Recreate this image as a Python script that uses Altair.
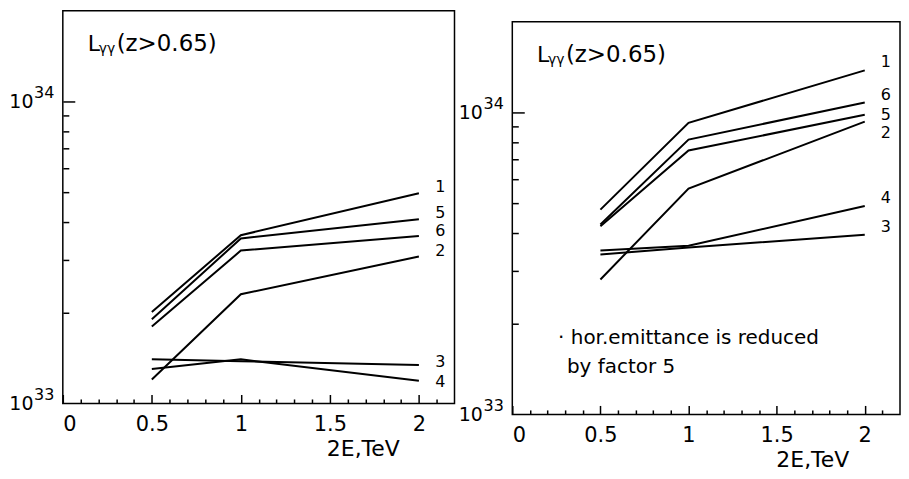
import altair as alt
import pandas as pd

# ---- data ----
energy = [0.5, 1.0, 2.0]  # 2E, TeV

# left panel: L_gg(z>0.65), cm^-2 s^-1
left_s1 = [2.01e33, 3.61e33, 4.97e33]
left_s2 = [1.20e33, 2.30e33, 3.07e33]
left_s3 = [1.40e33, 1.38e33, 1.34e33]
left_s4 = [1.30e33, 1.40e33, 1.19e33]
left_s5 = [1.90e33, 3.52e33, 4.08e33]
left_s6 = [1.80e33, 3.21e33, 3.59e33]

# right panel: horizontal emittance reduced by factor 5
right_s1 = [4.77e33, 9.25e33, 1.38e34]
right_s2 = [2.80e33, 5.60e33, 9.33e33]
right_s3 = [3.39e33, 3.57e33, 3.94e33]
right_s4 = [3.49e33, 3.62e33, 4.90e33]
right_s5 = [4.20e33, 7.49e33, 9.83e33]
right_s6 = [4.26e33, 8.14e33, 1.08e34]

series_names = ["1", "2", "3", "4", "5", "6"]

# curve number labels at the right end
label_x = 2.12
left_label_names = ["1", "5", "6", "2", "3", "4"]
left_label_y = [5.20e33, 4.28e33, 3.74e33, 3.21e33, 1.37e33, 1.18e33]
right_label_names = ["1", "6", "5", "2", "4", "3"]
right_label_y = [1.47e34, 1.14e34, 9.85e33, 8.55e33, 5.20e33, 4.17e33]

# axis ticks
x_major = [0, 0.5, 1, 1.5, 2]
x_minor = [0.1, 0.2, 0.3, 0.4, 0.6, 0.7, 0.8, 0.9, 1.1, 1.2, 1.3, 1.4,
           1.6, 1.7, 1.8, 1.9, 2.1]
y_labels = [1e33, 1e34]
y_minor = [2e33, 3e33, 4e33, 5e33, 6e33, 7e33, 8e33, 9e33]

# annotations
title_x = 0.14
title_y = 1.47e34
note_x = [0.26, 0.31]
note_y = [1.71e33, 1.37e33]
note_text = ["\u00b7 hor.emittance is reduced", "by factor 5"]

FONT = "DejaVu Sans"
H = 394
XDOM = [0, 2.2]
YDOM = [1e33, 2e34]


def panel(curves, lab_names, lab_y, W, notes=False):
    rows = []
    for name, vals in zip(series_names, curves):
        for e, v in zip(energy, vals):
            rows.append({"series": name, "E": e, "L": v})
    df = pd.DataFrame(rows)
    xs = alt.Scale(domain=XDOM, nice=False, zero=False)
    ys = alt.Scale(type="log", domain=YDOM, nice=False)
    base = alt.Chart(df)

    lines = base.mark_line(color="black", strokeWidth=2).encode(
        x=alt.X("E:Q", scale=xs, axis=alt.Axis(
            orient="bottom", values=x_major, format="~g", ticks=False,
            domain=False, grid=False, labelFont=FONT, labelFontSize=21,
            labelColor="black", labelPadding=10,
            title="2E,TeV", titleFont=FONT, titleFontSize=22,
            titleFontWeight="normal", titleColor="black", titleX=301,
            titleY=52, titleAlign="center", titleBaseline="alphabetic")),
        y=alt.Y("L:Q", scale=ys, axis=alt.Axis(
            orient="left", values=y_labels, labelExpr="'10'", ticks=False,
            domain=False, grid=False, labelFont=FONT, labelFontSize=19,
            labelColor="black", labelPadding=30, labelBaseline="middle",
            title=None)),
        detail="series:N",
    )
    sup = base.mark_line(opacity=0).encode(
        x=alt.X("E:Q", scale=xs, axis=None),
        y=alt.Y("L:Q", scale=ys, axis=alt.Axis(
            orient="left", values=y_labels,
            labelExpr="datum.value > 5e33 ? '34' : '33'", ticks=False,
            domain=False, grid=False, labelFont=FONT, labelFontSize=16,
            labelColor="black", labelPadding=9, labelBaseline="middle",
            labelOffset=-9, title=None)),
        detail="series:N",
    )

    def ticks(xv, xsize, yv, ysize):
        return base.mark_line(opacity=0).encode(
            x=alt.X("E:Q", scale=xs, axis=alt.Axis(
                orient="top", offset=-H, values=xv, tickSize=xsize,
                tickColor="black", tickWidth=1.5, labels=False, domain=False,
                grid=False, title=None)),
            y=alt.Y("L:Q", scale=ys, axis=alt.Axis(
                orient="right", offset=-W, values=yv, tickSize=ysize,
                tickColor="black", tickWidth=1.5, labels=False, domain=False,
                grid=False, title=None)),
            detail="series:N",
        )

    major = ticks(x_major, 9, [1e34], 12)
    minor = ticks(x_minor, 4.5, y_minor, 6)

    lab_df = pd.DataFrame({"E": [label_x] * len(lab_names), "L": lab_y,
                           "t": lab_names})
    labels = alt.Chart(lab_df).mark_text(
        font=FONT, fontSize=16, color="black", align="center",
        baseline="middle").encode(
        x=alt.X("E:Q", scale=xs, axis=None),
        y=alt.Y("L:Q", scale=ys, axis=None), text="t:N")

    tdf = pd.DataFrame({"E": [title_x], "L": [title_y]})
    tbase = alt.Chart(tdf)
    enc = dict(x=alt.X("E:Q", scale=xs, axis=None),
               y=alt.Y("L:Q", scale=ys, axis=None))
    t1 = tbase.mark_text(text="L", font=FONT, fontSize=22, color="black",
                         align="left", baseline="alphabetic").encode(**enc)
    t2 = tbase.mark_text(text="\u03b3\u03b3", font=FONT, fontSize=14,
                         color="black", align="left", baseline="alphabetic",
                         dx=11, dy=2).encode(**enc)
    t3 = tbase.mark_text(text="(z>0.65)", font=FONT, fontSize=23,
                         color="black", align="left",
                         baseline="alphabetic", dx=29).encode(**enc)

    layers = [lines, sup, major, minor, labels, t1, t2, t3]
    if notes:
        ndf = pd.DataFrame({"E": note_x, "L": note_y, "t": note_text})
        layers.append(alt.Chart(ndf).mark_text(
            font=FONT, fontSize=20, color="black", align="left",
            baseline="alphabetic").encode(
            x=alt.X("E:Q", scale=xs, axis=None),
            y=alt.Y("L:Q", scale=ys, axis=None), text="t:N"))
    return alt.layer(*layers).resolve_axis(
        x="independent", y="independent").properties(width=W, height=H)


left = panel([left_s1, left_s2, left_s3, left_s4, left_s5, left_s6],
             left_label_names, left_label_y, 393)
right_panel = panel([right_s1, right_s2, right_s3, right_s4, right_s5,
                     right_s6], right_label_names, right_label_y, 389,
                    notes=True)

spacer = alt.Chart(pd.DataFrame({"a": [0]})).mark_point(
    opacity=0, size=0).encode(x=alt.value(0), y=alt.value(0)).properties(
    width=1, height=9, view=alt.ViewBackground(stroke="transparent"))

right = alt.vconcat(spacer, right_panel, spacing=0)

chart = alt.hconcat(left, right, spacing=2).properties(
    padding={"left": 0, "top": 1, "right": 0, "bottom": 0},
    background="white",
).configure_view(stroke="black", strokeWidth=1.5)

chart.save("out.html", embed_options={"renderer": "svg", "actions": False})
